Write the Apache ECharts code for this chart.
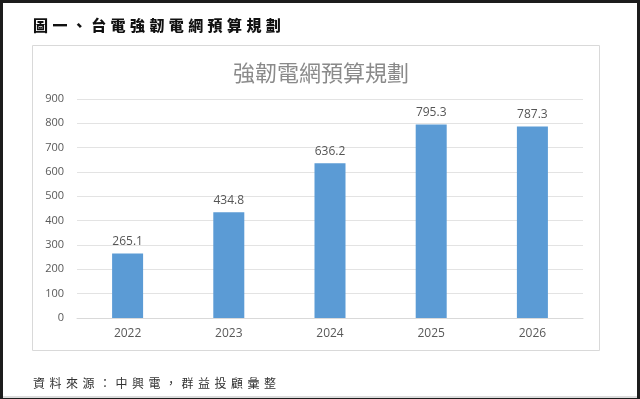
<!DOCTYPE html>
<html>
<head>
<meta charset="utf-8">
<script src="https://cdn.jsdelivr.net/npm/echarts@6/dist/echarts.min.js"></script>
<style>
    html, body { margin: 0; padding: 0; background: #1c1c1c; }
    #page {
        position: absolute; left: 3px; top: 3px; width: 634px; height: 393px;
        background: #fff; border-bottom: 2px solid #dcdcdc;
    }
    #chart { position: absolute; left: 0; top: 0; width: 640px; height: 399px; }
    .cap {
        position: absolute; white-space: nowrap;
        font-family: "Noto Sans CJK TC", "Noto Sans CJK SC", sans-serif;
    }
    #head { left: 33px; top: 14px; font-size: 15px; font-weight: 900; letter-spacing: 4.4px; color: #111; }
    #src { left: 33px; top: 374px; font-size: 12px; letter-spacing: 4.5px; color: #333; }
</style>
</head>
<body>
<div id="page"></div>
<div id="chart"></div>
<div class="cap" id="head">圖一、台電強韌電網預算規劃</div>
<div class="cap" id="src">資料來源：中興電，群益投顧彙整</div>
<script>
    var years = ["2022", "2023", "2024", "2025", "2026"];
    var budget = [265.1, 434.8, 636.2, 795.3, 787.3];
    var chartTitle = "強韌電網預算規劃";

    var myChart = echarts.init(document.getElementById("chart"));
    myChart.setOption({
        animation: false,
        textStyle: { fontFamily: "Open Sans, Noto Sans, sans-serif" },
        title: {
            text: chartTitle,
            left: 316,
            textAlign: "center",
            top: 57,
            textStyle: {
                fontFamily: "Noto Sans CJK TC",
                fontSize: 22,
                fontWeight: "normal",
                color: "#8a8a8a"
            }
        },
        graphic: [{
            type: "rect",
            shape: { x: 32.5, y: 45.5, width: 567, height: 305 },
            style: { fill: "none", stroke: "#d9d9d9", lineWidth: 1 },
            silent: true
        }],
        grid: { left: 77, right: 57, top: 99, bottom: 81 },
        xAxis: {
            type: "category",
            data: years,
            axisLine: { lineStyle: { color: "#d9d9d9" } },
            axisTick: { show: false },
            axisLabel: { color: "#595959", fontSize: 12, margin: 10 }
        },
        yAxis: {
            type: "value",
            min: 0,
            max: 900,
            interval: 100,
            axisLine: { show: false },
            axisTick: { show: false },
            splitLine: { lineStyle: { color: "#e3e3e3" } },
            axisLabel: { color: "#595959", fontSize: 11, margin: 13 }
        },
        series: [{
            type: "bar",
            data: budget,
            barWidth: 31,
            itemStyle: { color: "#5b9bd5" },
            label: {
                show: true,
                position: "top",
                distance: 6,
                color: "#555555",
                fontSize: 12
            }
        }]
    });
</script>
</body>
</html>
